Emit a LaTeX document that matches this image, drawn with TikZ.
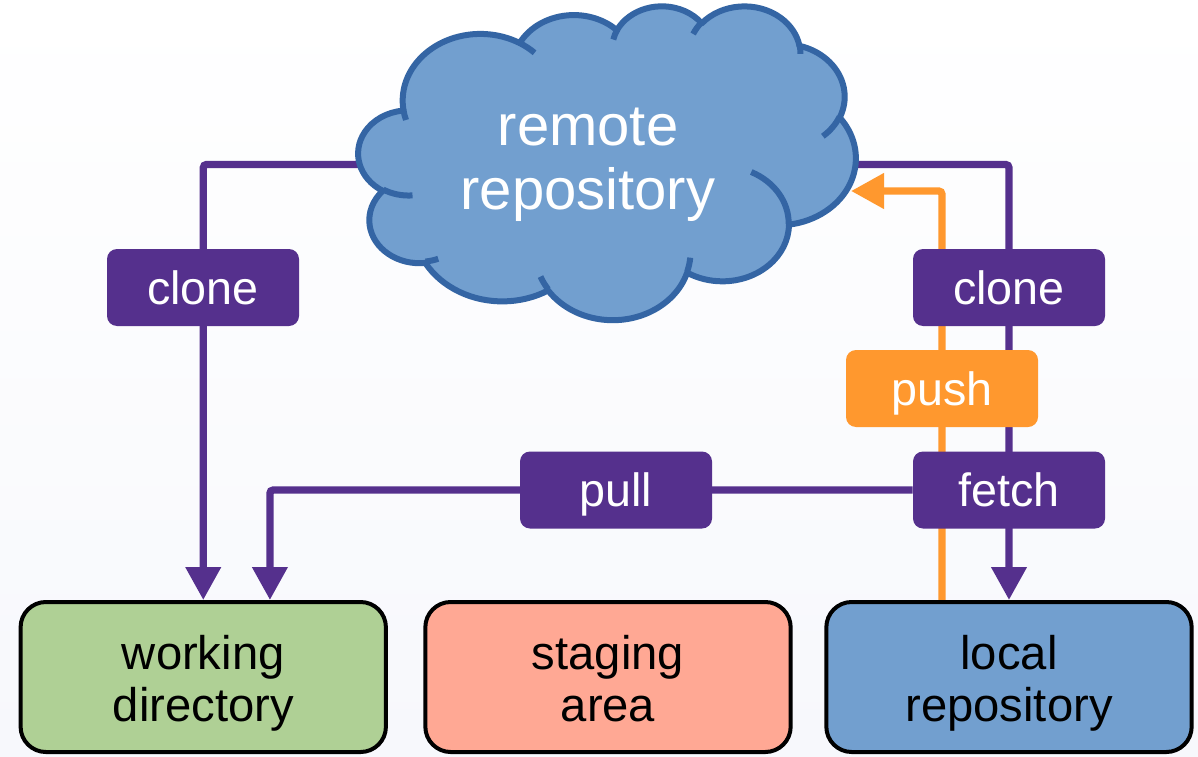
\documentclass[tikz,border=0pt]{standalone}
\usepackage{fontspec}
\setmainfont{Liberation Sans}
\usetikzlibrary{arrows.meta}
\definecolor{pur}{RGB}{85,48,141}
\definecolor{org}{RGB}{255,152,46}
\definecolor{cfill}{RGB}{114,159,207}
\definecolor{cedge}{RGB}{52,101,164}
\definecolor{gfill}{RGB}{175,208,149}
\definecolor{sfill}{RGB}{255,168,148}
\definecolor{lfill}{RGB}{114,159,207}
\definecolor{bgbot}{RGB}{247,248,252}
\pgfdeclarelayer{bgl}
\pgfdeclarelayer{lines}
\pgfdeclarelayer{cloudl}
\pgfdeclarelayer{orangel}
\pgfsetlayers{bgl,lines,cloudl,orangel,main}
\newcommand\toprule{\rule{0pt}{37pt}}
\newcommand\botrule{\rule[-10pt]{0pt}{0pt}}
\tikzset{
  declare function={vpar(\a,\rx,\ry)=atan2(\rx*sin(\a),\ry*cos(\a));},
  carc/.style n args={4}{insert path={arc[x radius=#1,y radius=#2,start angle={vpar(#3,#1,#2)},delta angle={mod(vpar(#3+#4,#1,#2)-vpar(#3,#1,#2)+720,360)}]}},
  cloudshape/.style={fill=cfill,draw=cedge,line width=4.5pt,line join=round},
  cloudcurl/.style={draw=cedge,line width=4.5pt},
  pl/.style={draw=pur,line width=5.5pt,rounded corners=2.5pt,-{Triangle[length=24.75pt,width=25.5pt]}},
  ol/.style={draw=org,line width=5.5pt,rounded corners=2.5pt,-{Triangle[length=24.75pt,width=25.5pt]}},
  lab/.style={fill=pur,text=white,rounded corners=7.5pt,minimum width=144pt,minimum height=57.75pt,inner sep=0pt,font=\fontsize{35}{42}\selectfont,text height=24.75pt,text depth=0pt},
  box/.style={draw=black,line width=3pt,rounded corners=19pt,minimum width=274pt,minimum height=112.5pt,inner sep=0pt,align=center,font=\fontsize{35.4}{39}\selectfont},
}
\begin{document}
\begin{tikzpicture}[x=0.75pt,y=-0.75pt]
\useasboundingbox (0,0) rectangle (1198,756);
\begin{pgfonlayer}{bgl}
\fill[top color=white,bottom color=bgbot] (0,0) rectangle (1198,756);
\end{pgfonlayer}

% boxes
\node[box,fill=gfill] (wd) at (203.25,677) {\toprule working\\directory\botrule};
\node[box,fill=sfill] (sa) at (608,677) {\toprule staging\\area\botrule};
\node[box,fill=lfill] (lr) at (1009,677) {\toprule local\\repository\botrule};

% labels
\node[lab] (cloneL) at (203,287.5) {clone};
\node[lab] (cloneR) at (1009,287.5) {clone};
\node[lab,fill=org] (push) at (942,388.5) {push};
\node[lab] (pull) at (616,490) {pull};
\node[lab] (fetch) at (1009,490) {fetch};

% cloud
\begin{pgfonlayer}{cloudl}
\begin{scope}[shift={(358.5,5.3)},x=0.8631pt,y=-0.54470pt]
\path[cloudshape] (39.00,143.70)
 [carc={67.53}{91.90}{-190.487483}{123.780533}]
 [carc={53.33}{72.67}{-144.102383}{89.945233}]
 [carc={43.65}{59.45}{-145.807917}{99.723017}]
 [carc={48.57}{65.95}{-130.986067}{117.241733}]
 [carc={53.33}{72.73}{-78.708883}{109.026917}]
 [carc={67.75}{92.20}{-46.26725}{130.269}]
 [carc={57.85}{78.67}{0.625017}{114.033333}]
 [carc={67.52}{92.15}{22.4516}{115.17255}]
 [carc={77.20}{105.43}{66.242633}{75.711017}]
 [carc={43.60}{59.18}{-274.942083}{146.735567}]
 [carc={43.45}{59.45}{-246.8285}{152.51885}]
 -- cycle;
\path[cloudcurl]
 (46.93,261.77) [carc={43.45}{59.45}{86.742}{26.4295}]
 (69.28,348.99) [carc={43.60}{59.18}{73.61047}{11.44747}]
 (164.78,390.90) [carc={67.52}{92.15}{137.62415}{14.0811}]
 (288.27,347.51) [carc={67.52}{92.15}{6.45327}{15.99835}]
 (341.29,229.54) [carc={57.85}{78.67}{-70.29235}{70.91737}]
 (417.98,153.54) [carc={53.33}{72.73}{30.31803}{27.7515}]
 (383.24,54.26) [carc={48.57}{65.95}{-13.74433}{14.8589}]
 (290.78,39.52) [carc={48.57}{65.95}{-149.18145}{18.19537}]
 (221.41,47.20) [carc={43.65}{59.45}{-163.49427}{17.68635}]
 (140.00,51.92) [carc={67.53}{91.90}{-66.70695}{12.31935}]
 (41.27,157.89) [carc={67.53}{91.90}{157.65435}{11.85817}];
\end{scope}
\node[text=white,align=center,font=\fontsize{43.5}{48}\selectfont] (remote) at (588,165) {remote\\repository};
\end{pgfonlayer}

\coordinate (cL) at (370,164.5);
\coordinate (cR) at (845,164.5);
\coordinate (cP) at (851,191);

\begin{pgfonlayer}{lines}
\draw[pl] (cL) -| (wd.north);
\draw[pl] (cR) -| (lr.north);
\draw[pl] (fetch.west) -| ([xshift=50pt]wd.north);
\end{pgfonlayer}
\begin{pgfonlayer}{orangel}
\draw[ol] ([xshift=-50.25pt]lr.north) |- (cP);
\end{pgfonlayer}
\end{tikzpicture}
\end{document}
